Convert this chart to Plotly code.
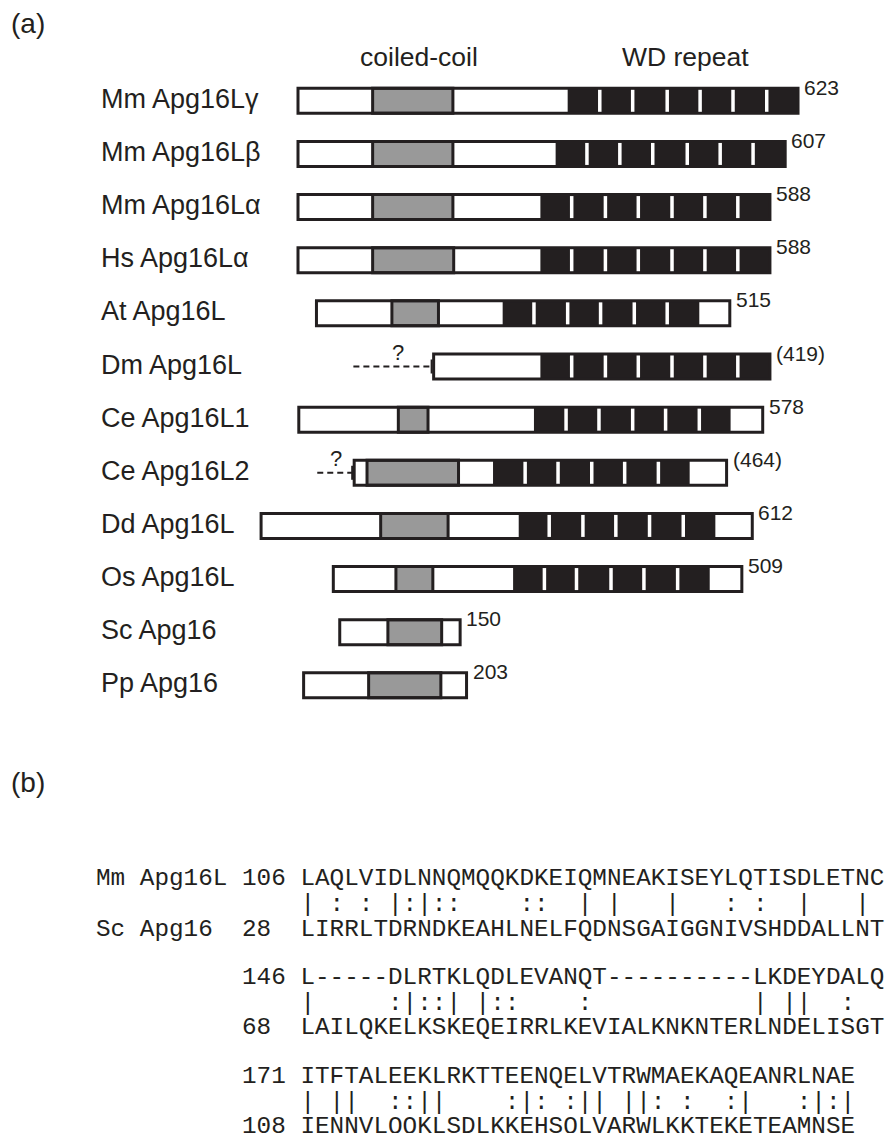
import plotly.graph_objects as go

# ---------------- Panel (a): domain architecture (residue units) ----------------
names = ["Mm Apg16Lγ", "Mm Apg16Lβ", "Mm Apg16Lα", "Hs Apg16Lα", "At Apg16L", "Dm Apg16L",
         "Ce Apg16L1", "Ce Apg16L2", "Dd Apg16L", "Os Apg16L", "Sc Apg16", "Pp Apg16"]
length_labels = ["623", "607", "588", "588", "515", "(419)", "578", "(464)", "612", "509", "150", "203"]
lengths = [623, 607, 588, 588, 515, 419, 578, 464, 612, 509, 150, 203]
offsets = [0, 0, 0, 0, 23, 169, 1, 70, -46, 44, 52, 7]
cc_start = [93, 93, 93, 93, 94, None, 124, 16, 149, 78, 60, 81]
cc_end = [193, 193, 193, 194, 152, None, 161, 130, 233, 124, 127, 171]
wd_start = [336, 321, 302, 302, 232, 133, 293, 173, 321, 224, None, None]
wd_end = [623, 607, 588, 588, 477, 419, 538, 418, 566, 469, None, None]
wd_breaks = [
    [376, 417, 460, 501, 542, 584],
    [360, 401, 442, 485, 526, 567],
    [341, 383, 424, 466, 507, 548],
    [341, 383, 424, 466, 507, 548],
    [271, 313, 354, 396, 437],
    [172, 214, 255, 297, 338, 379],
    [333, 374, 416, 457, 499],
    [213, 254, 296, 337, 379],
    [359, 401, 442, 484, 526],
    [263, 303, 346, 387, 429],
    [],
    [],
]
unknown_from = [None, None, None, None, None, -100, None, -46, None, None, None, None]
question_at = [None, None, None, None, None, -45, None, -23, None, None, None, None]

# ---------------- Panel (b): alignment ----------------
mm_name = "Mm Apg16L"
sc_name = "Sc Apg16"
mm_start = [106, 146, 171]
sc_start = [28, 68, 108]
mm_seq = ["LAQLVIDLNNQMQQKDKEIQMNEAKISEYLQTISDLETNC",
          "L-----DLRTKLQDLEVANQT----------LKDEYDALQ",
          "ITFTALEEKLRKTTEENQELVTRWMAEKAQEANRLNAE"]
sc_seq = ["LIRRLTDRNDKEAHLNELFQDNSGAIGGNIVSHDDALLNT",
          "LAILQKELKSKEQEIRRLKEVIALKNKNTERLNDELISGT",
          "IENNVLQQKLSDLKKEHSQLVARWLKKTEKETEAMNSE"]
match = ["| : : |:|::    ::  | |   |   : :  |   |",
         "|     :|::| |::    :           | ||  :",
         "| ||  ::||    :|: :|| ||: :  :|   :|:|"]

# ---------------- layout constants ----------------
W, H = 887, 1133
DARK = "#231f20"
GRAY = "#999999"
PX_PER_RES = 0.8026
X0_PX = 298.0
ROW0, PITCH = 100.8, 53.14
HALF = 12.5
SANS = "Arial, Liberation Sans, sans-serif"
MONO = "Courier New, Liberation Mono, monospace"

fig = go.Figure()
shapes = []
annotations = []

def rect(x0, x1, yc, fill, lw, lc=DARK):
    shapes.append(dict(type="rect", xref="x", yref="y", x0=x0, x1=x1,
                       y0=yc - HALF, y1=yc + HALF, fillcolor=fill,
                       line=dict(width=lw, color=lc), layer="above"))

for i, name in enumerate(names):
    yc = ROW0 + PITCH * i
    off = offsets[i]
    end = off + lengths[i]
    if unknown_from[i] is not None:
        shapes.append(dict(type="line", xref="x", yref="y", x0=off + unknown_from[i], x1=off - 2,
                           y0=yc, y1=yc, line=dict(color=DARK, width=2, dash="6px,4px"), layer="above"))
        shapes.append(dict(type="line", xref="x", yref="y", x0=off - 2.5, x1=off - 2.5,
                           y0=yc - 7, y1=yc + 7, line=dict(color=DARK, width=2), layer="above"))
        annotations.append(dict(x=off + question_at[i], y=yc - 14, xref="x", yref="y", text="?",
                                showarrow=False, xanchor="center", yanchor="middle",
                                font=dict(family=SANS, size=22, color=DARK)))
    rect(off, end, yc, "white", 0)
    if cc_start[i] is not None:
        rect(off + cc_start[i], off + cc_end[i], yc, GRAY, 3)
    if wd_start[i] is not None:
        rect(off + wd_start[i], off + wd_end[i], yc, DARK, 0)
    rect(off, end, yc, "rgba(0,0,0,0)", 3)
    for b in wd_breaks[i]:
        shapes.append(dict(type="line", xref="x", yref="y", x0=off + b, x1=off + b,
                           y0=yc - 11, y1=yc + 11, line=dict(color="white", width=3.5), layer="above"))
    annotations.append(dict(x=99 / W, y=yc - 2, xref="paper", yref="y", text=name, showarrow=False,
                            xanchor="left", yanchor="middle",
                            font=dict(family=SANS, size=27, color=DARK)))
    annotations.append(dict(x=end, y=yc - 13.5, xref="x", yref="y", text=length_labels[i], showarrow=False,
                            xanchor="left", yanchor="middle", xshift=4,
                            font=dict(family=SANS, size=21, color=DARK)))

annotations.append(dict(x=418.5 / W, y=57, xref="paper", yref="y", text="coiled-coil", showarrow=False,
                        xanchor="center", yanchor="middle", font=dict(family=SANS, size=26.5, color=DARK)))
annotations.append(dict(x=685 / W, y=57, xref="paper", yref="y", text="WD repeat", showarrow=False,
                        xanchor="center", yanchor="middle", font=dict(family=SANS, size=26.5, color=DARK)))
annotations.append(dict(x=9 / W, y=23, xref="paper", yref="y", text="(a)", showarrow=False,
                        xanchor="left", yanchor="middle", font=dict(family=SANS, size=28, color=DARK)))
annotations.append(dict(x=9 / W, y=782, xref="paper", yref="y", text="(b)", showarrow=False,
                        xanchor="left", yanchor="middle", font=dict(family=SANS, size=28, color=DARK)))

NB = "\u00a0"
BLOCK0, BLOCK_PITCH = 878.5, 98.8
for k in range(3):
    top_name = (mm_name if k == 0 else "").ljust(10)
    bot_name = (sc_name if k == 0 else "").ljust(10)
    rows = [
        top_name + str(mm_start[k]).ljust(4) + mm_seq[k],
        " " * 14 + match[k],
        bot_name + str(sc_start[k]).ljust(4) + sc_seq[k],
    ]
    ys = [0, 26, 50.5]
    for r, dy in zip(rows, ys):
        annotations.append(dict(x=94 / W, y=BLOCK0 + BLOCK_PITCH * k + dy, xref="paper", yref="y",
                                text=r.replace(" ", NB), showarrow=False, xanchor="left", yanchor="middle",
                                font=dict(family=MONO, size=24.33, color=DARK)))

fig.update_layout(
    width=W, height=H, autosize=False,
    margin=dict(l=0, r=0, t=0, b=0),
    paper_bgcolor="white", plot_bgcolor="white",
    showlegend=False,
    xaxis=dict(range=[-X0_PX / PX_PER_RES, (W - X0_PX) / PX_PER_RES], visible=False, fixedrange=True),
    yaxis=dict(range=[H, 0], visible=False, fixedrange=True),
    shapes=shapes,
    annotations=annotations,
)
fig.write_html("out.html", config={"displayModeBar": False},
               post_script="document.body.style.margin='0';")
